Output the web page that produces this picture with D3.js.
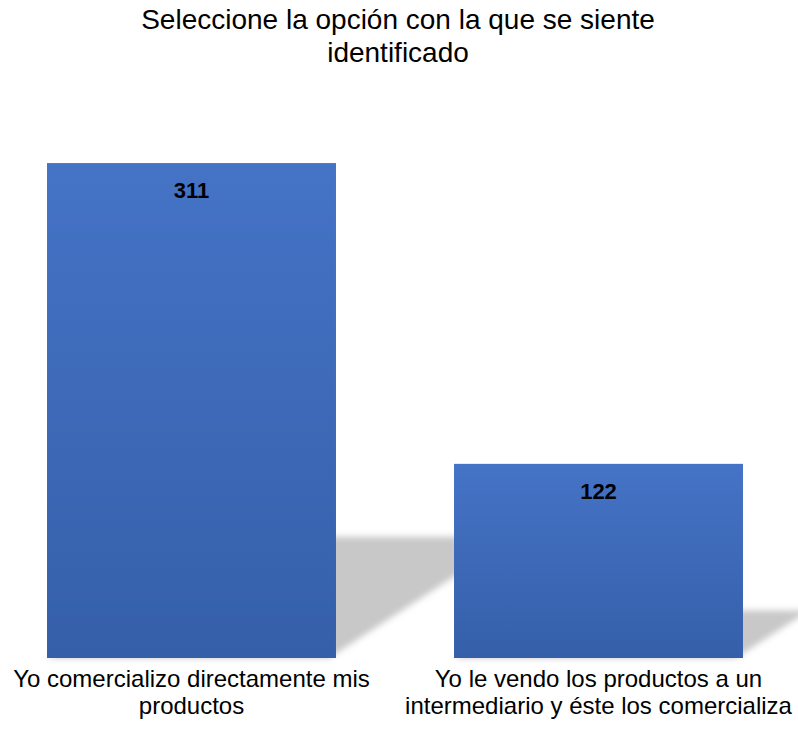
<!DOCTYPE html>
<html>
<head>
<meta charset="utf-8">
<script src="https://cdn.jsdelivr.net/npm/d3@7"></script>
<style>
  html, body { margin: 0; padding: 0; background: #ffffff; }
  svg { display: block; font-family: "Liberation Sans", Arial, sans-serif; }
</style>
</head>
<body>
<svg id="chart" width="798" height="730"></svg>
<script>
// ---- data ----
const titleLines = ["Seleccione la opción con la que se siente", "identificado"];
const categories = [
  ["Yo comercializo directamente mis", "productos"],
  ["Yo le vendo los productos a un", "intermediario y éste los comercializa"]
];
const values = [311, 122];
const yDomainMax = 350;

// ---- layout ----
const svg = d3.select("#chart");

const x = d3.scaleBand()
  .domain(d3.range(values.length))
  .range([-12, 802])
  .paddingInner(0.29)
  .paddingOuter(0.145);

const y = d3.scaleLinear()
  .domain([0, yDomainMax])
  .range([658, 101]);

const defs = svg.append("defs");
const grad = defs.append("linearGradient")
  .attr("id", "barGrad")
  .attr("x1", 0).attr("y1", 0).attr("x2", 0).attr("y2", 1);
grad.append("stop").attr("offset", "0%").attr("stop-color", "#4573C6");
grad.append("stop").attr("offset", "100%").attr("stop-color", "#355FA9");

const blur = defs.append("filter")
  .attr("id", "shadowBlur")
  .attr("x", "-20%").attr("y", "-20%").attr("width", "140%").attr("height", "140%");
blur.append("feGaussianBlur").attr("stdDeviation", 3.2);

// title
svg.append("g")
  .selectAll("text")
  .data(titleLines)
  .join("text")
  .attr("x", 398)
  .attr("y", (d, i) => 29 + i * 33)
  .attr("text-anchor", "middle")
  .attr("font-size", 28)
  .attr("fill", "#000")
  .text(d => d);

// perspective shadows
const shadowRatio = 0.245, slope = 0.65;
svg.append("g")
  .selectAll("path")
  .data(values)
  .join("path")
  .attr("filter", "url(#shadowBlur)")
  .attr("fill", "#c8c8c8")
  .attr("d", (d, i) => {
    const x0 = x(i), x1 = x(i) + x.bandwidth() - 7;
    const base = y(0);
    const sh = (y(0) - y(d)) * shadowRatio;
    const dx = sh / slope;
    return `M${x0},${base}L${x1},${base}L${x1 + dx},${base - sh}L${x0 + dx},${base - sh}Z`;
  });

// bars
svg.append("g")
  .selectAll("rect")
  .data(values)
  .join("rect")
  .attr("x", (d, i) => x(i))
  .attr("y", d => y(d))
  .attr("width", x.bandwidth())
  .attr("height", d => y(0) - y(d))
  .attr("fill", "url(#barGrad)");

// value labels
svg.append("g")
  .selectAll("text")
  .data(values)
  .join("text")
  .attr("x", (d, i) => x(i) + x.bandwidth() / 2)
  .attr("y", d => y(d) + 35)
  .attr("text-anchor", "middle")
  .attr("font-size", 22)
  .attr("font-weight", "bold")
  .attr("fill", "#000")
  .text(d => d);

// category labels
const cat = svg.append("g")
  .selectAll("text")
  .data(categories)
  .join("text")
  .attr("x", (d, i) => x(i) + x.bandwidth() / 2)
  .attr("y", 687)
  .attr("text-anchor", "middle")
  .attr("font-size", 24)
  .attr("fill", "#000");
cat.selectAll("tspan")
  .data(d => d)
  .join("tspan")
  .attr("x", function() { return d3.select(this.parentNode).attr("x"); })
  .attr("dy", (d, i) => i === 0 ? 0 : 27)
  .text(d => d);
</script>
</body>
</html>
